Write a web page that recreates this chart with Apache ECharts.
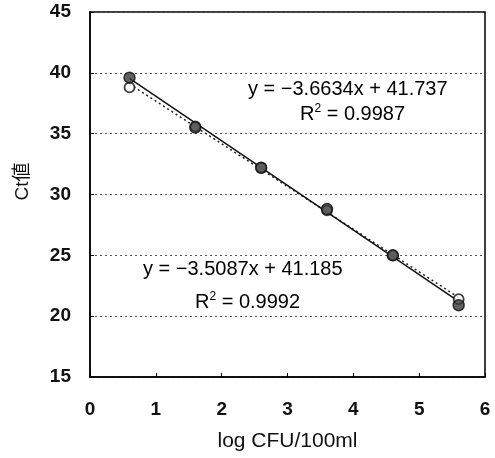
<!DOCTYPE html>
<html><head><meta charset="utf-8">
<script src="https://cdn.jsdelivr.net/npm/echarts@6/dist/echarts.min.js"></script>
<style>html,body{margin:0;padding:0;background:#fff}#c{width:495px;height:458px}</style>
</head><body><div id="c"></div>
<script>
const xVals = [0.6, 1.6, 2.6, 3.6, 4.6, 5.6];
const filledCt = [39.6, 35.5, 32.2, 28.8, 25.0, 20.9];
const openCt = [38.8, 35.6, 32.2, 28.7, 25.0, 21.4];
const fitFilled = [-3.6634, 41.737];
const fitOpen = [-3.5087, 41.185];
const xTicks = [0, 1, 2, 3, 4, 5, 6];
const yTicks = [15, 20, 25, 30, 35, 40, 45];
const eqFilled = ['y = −3.6634x + 41.737', '0.9987'];
const eqOpen = ['y = −3.5087x + 41.185', '0.9992'];

const pts = (xs, ys) => xs.map((x, i) => [x, ys[i]]);
const fitLine = (f) => [xVals[0], xVals[xVals.length - 1]].map(x => [x, f[0] * x + f[1]]);

const font = '"Liberation Sans", Arial, "Noto Sans CJK JP", sans-serif';
const rich = { a: { fontFamily: font, fontSize: 20, color: '#111' }, s: { fontFamily: font, fontSize: 12, color: '#111', verticalAlign: 'top', padding: [0, 0, 10, 0] } };
const chart = echarts.init(document.getElementById('c'));
chart.setOption({
  animation: false,
  grid: { left: 90, right: 10, top: 12, bottom: 81, show: true, borderColor: '#000', borderWidth: 1.5, backgroundColor: 'transparent' },
  xAxis: {
    type: 'value', min: xTicks[0], max: xTicks[xTicks.length - 1], interval: 1,
    name: 'log CFU/100ml', nameLocation: 'middle', nameGap: 54,
    nameTextStyle: { fontFamily: font, fontSize: 21, color: '#111' },
    axisLine: { show: true, lineStyle: { color: '#000', width: 1.5 } },
    axisTick: { show: true, inside: true, length: 4, lineStyle: { color: '#000' } },
    axisLabel: { fontFamily: font, fontSize: 19, fontWeight: 'bold', color: '#111', margin: 23 },
    splitLine: { show: false }
  },
  yAxis: {
    type: 'value', min: yTicks[0], max: yTicks[yTicks.length - 1], interval: 5,
    name: 'Ct値', nameLocation: 'middle', nameGap: 58, nameRotate: 90,
    nameTextStyle: { fontFamily: font, fontSize: 19, color: '#111', padding: [0, 0, 0, 26] },
    axisLine: { show: true, lineStyle: { color: '#000', width: 1.5 } },
    axisTick: { show: true, inside: true, length: 4, lineStyle: { color: '#000' } },
    axisLabel: { fontFamily: font, fontSize: 19, fontWeight: 'bold', color: '#111', margin: 19 },
    splitLine: { show: true, lineStyle: { type: [2, 3], color: '#555', width: 1 } }
  },
  series: [
    { type: 'line', data: fitLine(fitOpen), symbol: 'none', lineStyle: { color: '#222', width: 1.5, type: [2, 3] }, z: 2 },
    { type: 'line', data: fitLine(fitFilled), symbol: 'none', lineStyle: { color: '#111', width: 1.5 }, z: 3 },
    { type: 'scatter', data: pts(xVals, openCt), symbol: 'circle', symbolSize: 10,
      itemStyle: { color: '#fff', borderColor: '#111', borderWidth: 1.8 }, z: 4 },
    { type: 'scatter', data: pts(xVals, filledCt), symbol: 'circle', symbolSize: 11,
      itemStyle: { color: '#3a3a3a', borderColor: '#111', borderWidth: 1.5 }, z: 5 }
  ],
  graphic: [
    { type: 'text', left: 248, top: 79, style: { text: '{a|' + eqFilled[0] + '}', rich } },
    { type: 'text', left: 300, top: 103, style: { text: '{a|R}{s|2}{a| = ' + eqFilled[1] + '}', rich } },
    { type: 'text', left: 143, top: 259, style: { text: '{a|' + eqOpen[0] + '}', rich } },
    { type: 'text', left: 195, top: 291, style: { text: '{a|R}{s|2}{a| = ' + eqOpen[1] + '}', rich } }
  ]
});
</script>
</body></html>
